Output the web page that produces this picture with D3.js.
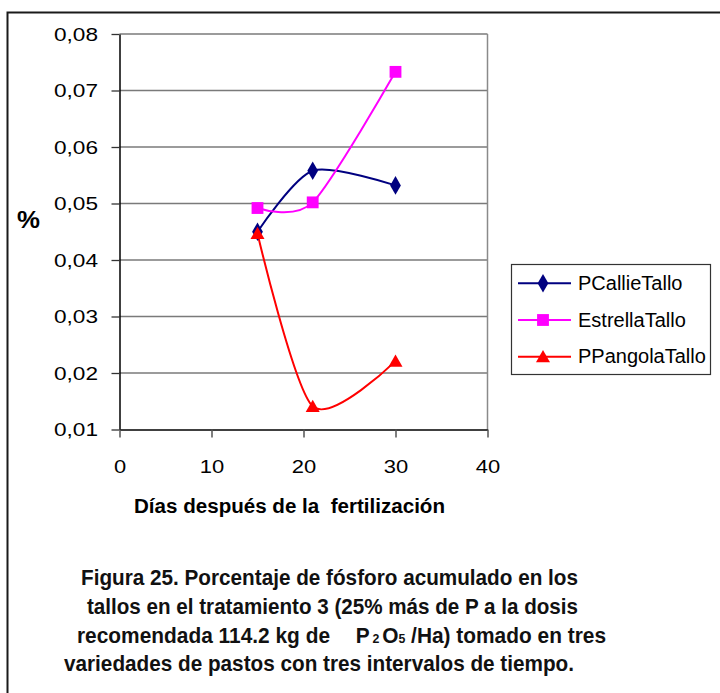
<!DOCTYPE html>
<html>
<head>
<meta charset="utf-8">
<script src="https://cdn.jsdelivr.net/npm/d3@7"></script>
<style>
  html, body { margin: 0; padding: 0; background: #fff; }
  svg { display: block; font-family: "Liberation Sans", Arial, sans-serif; }
  text { white-space: pre; }
</style>
</head>
<body>
<svg id="chart" width="720" height="693"></svg>
<script>
// Days after fertilisation and phosphorus (%) in stems for each grass variety
const days = [15, 21, 30];
const pCallieTallo = [0.0450, 0.0558, 0.0532];
const estrellaTallo = [0.0492, 0.0502, 0.0733];
const pPangolaTallo = [0.0447, 0.0141, 0.0221];

const seriesNames = ["PCallieTallo", "EstrellaTallo", "PPangolaTallo"];
const seriesColors = ["#000080", "#FF00FF", "#FF0000"];
const seriesSymbols = [d3.symbolDiamond, d3.symbolSquare, d3.symbolTriangle];

const xTicks = [0, 10, 20, 30, 40];
const xTickLabels = ["0", "10", "20", "30", "40"];
const yTicks = [0.01, 0.02, 0.03, 0.04, 0.05, 0.06, 0.07, 0.08];
const yTickLabels = ["0,01", "0,02", "0,03", "0,04", "0,05", "0,06", "0,07", "0,08"];

const xTitle = "Días después de la  fertilización";
const yTitle = "%";
const captionLines = [
  "Figura 25. Porcentaje de fósforo acumulado en los",
  "tallos en el tratamiento 3 (25% más de P a la dosis"
];
const captionLast = "variedades de pastos con tres intervalos de tiempo.";

const series = seriesNames.map((name, i) => ({
  name,
  color: seriesColors[i],
  symbol: seriesSymbols[i],
  values: [pCallieTallo, estrellaTallo, pPangolaTallo][i].map((v, j) => ({ x: days[j], y: v }))
}));

const svg = d3.select("#chart");

// outer frame (open on the right and bottom edges of the page)
svg.append("rect")
  .attr("x", 7.5).attr("y", 12.5)
  .attr("width", 760).attr("height", 720)
  .attr("fill", "none").attr("stroke", "#1a1a1a").attr("stroke-width", 2);

const x = d3.scaleLinear().domain([0, 40]).range([119.5, 487.5]);
const y = d3.scaleLinear().domain([0.01, 0.08]).range([429.5, 34]);

// gridlines
svg.append("g")
  .selectAll("line")
  .data(yTicks.slice(1))
  .join("line")
  .attr("x1", x(0)).attr("x2", x(40))
  .attr("y1", d => y(d)).attr("y2", d => y(d))
  .attr("stroke", "#7a7a7a").attr("stroke-width", 1.3);

// plot area border (right side)
svg.append("line")
  .attr("x1", x(40)).attr("x2", x(40))
  .attr("y1", y(0.08)).attr("y2", y(0.01))
  .attr("stroke", "#8a8a8a").attr("stroke-width", 1.5);

// y axis
const yAxis = svg.append("g")
  .attr("transform", `translate(${x(0)},0)`)
  .call(d3.axisLeft(y).tickValues(yTicks)
    .tickFormat((d, i) => yTickLabels[i])
    .tickSize(8).tickSizeOuter(0).tickPadding(13.5));
yAxis.select(".domain").attr("stroke", "#000").attr("stroke-width", 1.5);
yAxis.selectAll(".tick line").attr("stroke", "#333").attr("stroke-width", 1.3);
yAxis.selectAll(".tick text")
  .attr("font-size", 19).attr("fill", "#000")
  .attr("font-family", "Liberation Sans, Arial, sans-serif")
  .attr("textLength", 44).attr("lengthAdjust", "spacingAndGlyphs");

// x axis
const xAxis = svg.append("g")
  .attr("transform", `translate(0,${y(0.01)})`)
  .call(d3.axisBottom(x).tickValues(xTicks)
    .tickFormat((d, i) => xTickLabels[i])
    .tickSize(8).tickSizeOuter(0).tickPadding(21.7));
xAxis.select(".domain").attr("stroke", "#000").attr("stroke-width", 1.5);
xAxis.selectAll(".tick line").attr("stroke", "#555").attr("stroke-width", 1.5);
xAxis.selectAll(".tick text")
  .attr("font-size", 19).attr("fill", "#000")
  .attr("font-family", "Liberation Sans, Arial, sans-serif")
  .attr("textLength", (d, i) => xTickLabels[i].length * 12.2)
  .attr("lengthAdjust", "spacingAndGlyphs");

// axis titles
svg.append("text")
  .attr("x", 134).attr("y", 513.3)
  .attr("font-size", 20).attr("font-weight", "bold")
  .attr("textLength", 311).attr("lengthAdjust", "spacingAndGlyphs")
  .text(xTitle);

svg.append("text")
  .attr("x", 17).attr("y", 228)
  .attr("font-size", 24).attr("font-weight", "bold")
  .attr("textLength", 23).attr("lengthAdjust", "spacingAndGlyphs")
  .text(yTitle);

// smoothed series lines and markers
const line = d3.line()
  .x(d => x(d.x)).y(d => y(d.y))
  .curve(d3.curveCardinal.tension(0.2));

function symbolPath(sym) {
  const size = sym === d3.symbolDiamond ? 100 : sym === d3.symbolSquare ? 140 : 85;
  return d3.symbol().type(sym).size(size)();
}

series.forEach(s => {
  svg.append("path")
    .datum(s.values)
    .attr("d", line)
    .attr("fill", "none")
    .attr("stroke", s.color)
    .attr("stroke-width", 2);
});

series.forEach(s => {
  const tri = s.symbol === d3.symbolTriangle;
  svg.append("g")
    .selectAll("path")
    .data(s.values)
    .join("path")
    .attr("d", symbolPath(s.symbol))
    .attr("transform", d => `translate(${x(d.x)},${y(d.y) + (tri ? 1.5 : 0)})`)
    .attr("fill", s.color);
});

// legend
const legend = svg.append("g");
legend.append("rect")
  .attr("x", 511.5).attr("y", 264.5)
  .attr("width", 199).attr("height", 110)
  .attr("fill", "#fff").attr("stroke", "#333").attr("stroke-width", 1.2);

const rowY = d3.scalePoint().domain(seriesNames).range([283.3, 356.7]);
series.forEach(s => {
  const ry = rowY(s.name);
  const tri = s.symbol === d3.symbolTriangle;
  legend.append("line")
    .attr("x1", 518).attr("x2", 571)
    .attr("y1", ry).attr("y2", ry)
    .attr("stroke", s.color).attr("stroke-width", 2);
  legend.append("path")
    .attr("d", symbolPath(s.symbol))
    .attr("transform", `translate(543,${ry + (tri ? 1.5 : 0)})`)
    .attr("fill", s.color);
  legend.append("text")
    .attr("x", 578).attr("y", ry + 6.5)
    .attr("font-size", 20)
    .text(s.name);
});

// caption
const cap = svg.append("g").attr("font-weight", "bold").attr("font-size", 22).attr("fill", "#111");
cap.append("text").attr("x", 81).attr("y", 585)
  .attr("textLength", 497).attr("lengthAdjust", "spacingAndGlyphs")
  .text(captionLines[0]);
cap.append("text").attr("x", 87).attr("y", 614)
  .attr("textLength", 491).attr("lengthAdjust", "spacingAndGlyphs")
  .text(captionLines[1]);

const l3 = cap.append("text").attr("x", 77).attr("y", 643)
  .attr("transform", "translate(77,0) scale(0.95,1) translate(-77,0)");
l3.append("tspan").text("recomendada 114.2 kg de");
l3.append("tspan").attr("dx", 27).text("P");
l3.append("tspan").attr("font-size", 13).attr("dx", 3).text("2");
l3.append("tspan").attr("dx", 3).text("O");
l3.append("tspan").attr("font-size", 13).text("5");
l3.append("tspan").text(" /Ha) tomado en tres");

cap.append("text").attr("x", 64).attr("y", 671)
  .attr("textLength", 510).attr("lengthAdjust", "spacingAndGlyphs")
  .text(captionLast);
</script>
</body>
</html>
